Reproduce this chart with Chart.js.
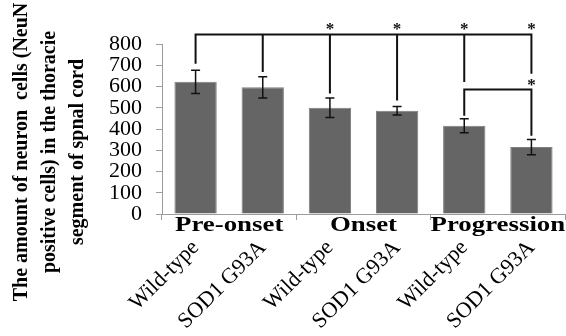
<!DOCTYPE html>
<html>
<head>
<meta charset="utf-8">
<script src="https://cdn.jsdelivr.net/npm/chart.js@4.4.1/dist/chart.umd.min.js"></script>
<style>
    html, body { margin: 0; padding: 0; background: #fff; }
    #wrap { width: 566px; height: 336px; position: relative; }
</style>
</head>
<body>
<div id="wrap"><canvas id="neunChart"></canvas></div>
<script>
// -------------------------------
// DATA
// -------------------------------
const categories = ["Wild-type", "SOD1 G93A", "Wild-type", "SOD1 G93A", "Wild-type", "SOD1 G93A"];
const stages = ["Pre-onset", "Onset", "Progression"];
const neuronCounts = [622, 596, 500, 486, 415, 315];
const errors = [55, 50, 46, 20, 33, 36];
const yTicks = [0, 100, 200, 300, 400, 500, 600, 700, 800];
const yTitle = ["The amount of neuron  cells (NeuN", "positive cells) in the thoracie", "segment of spnal cord"];

// significance brackets (y values)
const mainLevel = 845;
const mainDrops = [712, 673, 572, 539, 626, 665];
const mainStars = [2, 3, 4, 5];
const mainStarLevel = 883;
const pairIdx = [4, 5];
const pairLevel = 586;
const pairDrops = [467, 373];
const pairStarLevel = 620;

const SERIF = "'Liberation Serif', 'Times New Roman', serif";
const AXIS = "#9c9c9c";

// -------------------------------
// PLUGINS
// -------------------------------
const errorBars = {
    id: "errorBars",
    afterDatasetsDraw(chart) {
        const { ctx, scales: { y } } = chart;
        const bars = chart.getDatasetMeta(0).data;
        ctx.save();
        ctx.strokeStyle = "#111";
        ctx.lineWidth = 1.5;
        bars.forEach((bar, i) => {
            const top = y.getPixelForValue(neuronCounts[i] + errors[i]);
            const bot = y.getPixelForValue(neuronCounts[i] - errors[i]);
            ctx.beginPath();
            ctx.moveTo(bar.x, top); ctx.lineTo(bar.x, bot);
            ctx.moveTo(bar.x - 4.5, top); ctx.lineTo(bar.x + 4.5, top);
            ctx.moveTo(bar.x - 4.5, bot); ctx.lineTo(bar.x + 4.5, bot);
            ctx.stroke();
        });
        ctx.restore();
    }
};

const brackets = {
    id: "brackets",
    afterDatasetsDraw(chart) {
        const { ctx, scales: { x, y } } = chart;
        ctx.save();
        ctx.strokeStyle = "#111";
        ctx.lineWidth = 2;
        ctx.lineCap = "square";

        // long bracket
        const lv = y.getPixelForValue(mainLevel);
        ctx.beginPath();
        ctx.moveTo(x.getPixelForValue(0), lv);
        ctx.lineTo(x.getPixelForValue(5), lv);
        mainDrops.forEach((d, i) => {
            const px = x.getPixelForValue(i);
            ctx.moveTo(px, lv);
            ctx.lineTo(px, y.getPixelForValue(d));
        });
        ctx.stroke();

        // pair bracket
        const pv = y.getPixelForValue(pairLevel);
        const a = x.getPixelForValue(pairIdx[0]);
        const b = x.getPixelForValue(pairIdx[1]);
        ctx.beginPath();
        ctx.moveTo(a, y.getPixelForValue(pairDrops[0]));
        ctx.lineTo(a, pv);
        ctx.lineTo(b, pv);
        ctx.lineTo(b, y.getPixelForValue(pairDrops[1]));
        ctx.stroke();

        // stars
        ctx.fillStyle = "#111";
        ctx.font = "bold 17px " + SERIF;
        ctx.textAlign = "center";
        ctx.textBaseline = "middle";
        mainStars.forEach(i => {
            ctx.fillText("*", x.getPixelForValue(i), y.getPixelForValue(mainStarLevel) + 3);
        });
        ctx.fillText("*", b, y.getPixelForValue(pairStarLevel) + 3);
        ctx.restore();
    }
};

const stageLabels = {
    id: "stageLabels",
    afterDraw(chart) {
        const { ctx, scales: { x }, chartArea } = chart;
        ctx.save();
        ctx.fillStyle = "#000";
        ctx.font = "bold 22px " + SERIF;
        ctx.textAlign = "center";
        ctx.textBaseline = "alphabetic";
        stages.forEach((s, k) => {
            const cx = (x.getPixelForValue(2 * k) + x.getPixelForValue(2 * k + 1)) / 2;
            ctx.save();
            ctx.translate(cx, chartArea.bottom + 17);
            ctx.scale(1.22, 1);
            ctx.fillText(s, 0, 0);
            ctx.restore();
        });
        ctx.restore();
    }
};

const yAxisTitle = {
    id: "yAxisTitle",
    afterDraw(chart) {
        const { ctx } = chart;
        ctx.save();
        ctx.fillStyle = "#000";
        ctx.font = "bold 20px " + SERIF;
        ctx.textAlign = "center";
        ctx.textBaseline = "middle";
        yTitle.forEach((line, i) => {
            ctx.save();
            ctx.translate(22 + i * 28, 152);
            ctx.rotate(-Math.PI / 2);
            ctx.fillText(line, 0, 0);
            ctx.restore();
        });
        ctx.restore();
    }
};

// -------------------------------
// CHART
// -------------------------------
new Chart(document.getElementById("neunChart"), {
    type: "bar",
    data: {
        labels: categories,
        datasets: [{
            data: neuronCounts,
            backgroundColor: "#656565",
            borderColor: "#7d7d7d",
            borderWidth: 1,
            categoryPercentage: 1,
            barPercentage: 0.63
        }]
    },
    options: {
        responsive: true,
        maintainAspectRatio: false,
        devicePixelRatio: 1,
        animation: false,
        layout: { padding: { top: 44, right: 1, left: 0, bottom: 0 } },
        plugins: {
            legend: { display: false },
            tooltip: { enabled: false }
        },
        scales: {
            x: {
                afterFit: s => { s.height = 122; },
                border: { color: AXIS, width: 1 },
                grid: {
                    drawOnChartArea: false,
                    tickLength: 6,
                    color: c => (c.index === undefined || c.index % 2 === 0) ? AXIS : "rgba(0,0,0,0)"
                },
                ticks: {
                    color: "#000",
                    font: { family: SERIF, size: 22 },
                    minRotation: 45,
                    maxRotation: 45,
                    autoSkip: false,
                    padding: 15
                }
            },
            y: {
                min: 0,
                max: 800,
                afterFit: s => { s.width = 162; },
                afterBuildTicks: s => { s.ticks = yTicks.map(v => ({ value: v })); },
                border: { color: AXIS, width: 1 },
                grid: { drawOnChartArea: false, tickLength: 6, color: AXIS },
                ticks: {
                    color: "#000",
                    font: { family: SERIF, size: 22 },
                    autoSkip: false,
                    padding: 14
                }
            }
        }
    },
    plugins: [errorBars, brackets, stageLabels, yAxisTitle]
});
</script>
</body>
</html>
